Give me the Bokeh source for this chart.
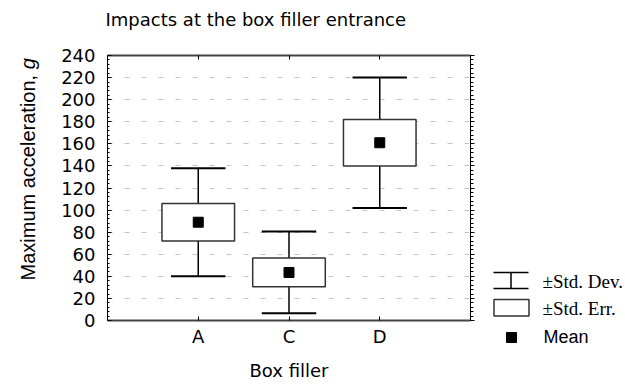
import math
from bokeh.plotting import figure
from bokeh.models import Range1d, LinearAxis, FixedTicker, ColumnDataSource, CustomLabelingPolicy
from bokeh.layouts import row, column
from bokeh.embed import file_html
from bokeh.resources import INLINE
from bokeh.core.properties import value

# ---- data ----
categories = ["A", "C", "D"]
means = [89.0, 43.5, 161.0]
std_err = [17.0, 13.0, 21.0]
std_dev = [49.0, 37.0, 59.0]
y_ticks = [0, 20, 40, 60, 80, 100, 120, 140, 160, 180, 200, 220, 240]
title_text = "Impacts at the box filler entrance"
y_label_parts = ["Maximum acceleration, ", "g"]
x_label = "Box filler"
legend_labels = ["\u00b1Std. Dev.", "\u00b1Std. Err.", "Mean"]

pos = [i + 1 for i in range(len(categories))]
src = ColumnDataSource(dict(
    x=pos,
    m=means,
    se_lo=[m - s for m, s in zip(means, std_err)],
    se_hi=[m + s for m, s in zip(means, std_err)],
    sd_lo=[m - s for m, s in zip(means, std_dev)],
    sd_hi=[m + s for m, s in zip(means, std_dev)],
    cap_l=[x - 0.3 for x in pos],
    cap_r=[x + 0.3 for x in pos],
))

SANS = "DejaVu Sans"
TOP_H = 40
LEFT_W = 40


def blank(fig):
    fig.outline_line_color = None
    fig.grid.visible = False
    fig.background_fill_color = "white"
    fig.border_fill_color = "white"
    fig.frame_align = False


# ---- title strip ----
tfig = figure(width=625, height=TOP_H, x_range=Range1d(0, 625), y_range=Range1d(TOP_H, 0),
              output_backend="svg", toolbar_location=None, min_border=0,
              x_axis_type=None, y_axis_type=None)
blank(tfig)
tfig.text(x=[105], y=[19], text=[title_text], text_font=value(SANS), text_font_size="18px",
          text_baseline="middle", text_align="left", text_color="black")

# ---- y label strip (page-pixel coordinates) ----
lfig = figure(width=LEFT_W, height=385 - TOP_H, x_range=Range1d(0, LEFT_W),
              y_range=Range1d(385, TOP_H), output_backend="svg", toolbar_location=None,
              min_border=0, x_axis_type=None, y_axis_type=None)
blank(lfig)
lfig.text(x=[27], y=[280], text=[y_label_parts[0]], angle=math.pi / 2,
          text_font=value("Liberation Sans"), text_font_size="20px",
          text_baseline="alphabetic", text_align="left", text_color="black")
lfig.text(x=[27], y=[280 - 211.2], text=[y_label_parts[1]], angle=math.pi / 2,
          text_font=value("Liberation Sans"), text_font_size="20px", text_font_style="italic",
          text_baseline="alphabetic", text_align="left", text_color="black")

# ---- main plot ----
p = figure(width=485 - LEFT_W, height=385 - TOP_H,
           x_range=Range1d(0, len(categories) + 1),
           y_range=Range1d(y_ticks[0], y_ticks[-1]),
           output_backend="svg", toolbar_location=None,
           min_border_left=107 - LEFT_W, min_border_right=15,
           min_border_top=55 - TOP_H, min_border_bottom=65)
p.background_fill_color = "white"
p.border_fill_color = "white"
p.outline_line_color = None
p.frame_align = False

no_labels = CustomLabelingPolicy(code="""
    const arr = [...indices]
    for (const i of arr) indices.unset(i)
    return indices
""")

# y axis
yt = FixedTicker(ticks=y_ticks, minor_ticks=list(range(0, 241, 4)))
yax = p.yaxis[0]
yax.ticker = yt
yax.major_label_text_font = SANS
yax.major_label_text_font_size = "18px"
yax.major_label_text_color = "black"
yax.major_label_standoff = 12
yax.major_tick_in = 4
yax.major_tick_out = 0
yax.minor_tick_in = 2
yax.minor_tick_out = 0
yax.axis_line_color = "black"
yax.major_tick_line_color = "black"
yax.minor_tick_line_color = "black"

# x axis
xax = p.xaxis[0]
xax.ticker = FixedTicker(ticks=pos)
xax.major_label_overrides = {x: c for x, c in zip(pos, categories)}
xax.axis_label = x_label
xax.axis_label_text_font = SANS
xax.axis_label_text_font_size = "18px"
xax.axis_label_text_font_style = "normal"
xax.axis_label_text_color = "black"
xax.axis_label_standoff = 10
xax.major_label_text_font = SANS
xax.major_label_text_font_size = "18px"
xax.major_label_text_color = "black"
xax.major_label_standoff = 5
xax.major_tick_in = 4
xax.major_tick_out = 0
xax.major_tick_line_color = "black"
xax.axis_line_color = "#444444"
xax.axis_line_width = 2

# top axis (ticks only)
top = LinearAxis(ticker=FixedTicker(ticks=pos), major_label_text_font_size="1px",
                 major_label_policy=no_labels,
                 major_tick_in=4, major_tick_out=0, major_label_standoff=0,
                 major_tick_line_color="black",
                 axis_line_color="#444444", axis_line_width=2)
p.add_layout(top, "above")

# right axis (ticks only)
right = LinearAxis(ticker=yt, major_label_text_font_size="1px",
                   major_label_policy=no_labels,
                   major_tick_in=0, major_tick_out=4, minor_tick_in=0, minor_tick_out=3,
                   major_label_standoff=0, axis_line_color="black",
                   major_tick_line_color="black", minor_tick_line_color="black")
p.add_layout(right, "right")

p.xgrid.visible = False
p.ygrid.grid_line_color = "#c4c4c4"
p.ygrid.grid_line_dash = "5 12"
p.ygrid.grid_line_width = 1

# whiskers (std dev)
p.segment(x0="x", y0="sd_lo", x1="x", y1="sd_hi", source=src, line_color="black", line_width=1.5)
p.segment(x0="cap_l", y0="sd_hi", x1="cap_r", y1="sd_hi", source=src, line_color="black", line_width=2)
p.segment(x0="cap_l", y0="sd_lo", x1="cap_r", y1="sd_lo", source=src, line_color="black", line_width=2)
# boxes (std err)
p.vbar(x="x", width=0.8, bottom="se_lo", top="se_hi", source=src,
       fill_color="white", line_color="#333333", line_width=1.5)
# means
p.scatter(x="x", y="m", source=src, marker="square", size=10,
          fill_color="black", line_color="black")

# ---- legend panel (page-pixel coordinates) ----
leg = figure(width=140, height=385 - TOP_H, x_range=Range1d(0, 140), y_range=Range1d(385, TOP_H),
             output_backend="svg", toolbar_location=None, min_border=0,
             x_axis_type=None, y_axis_type=None)
blank(leg)

leg.segment(x0=[8, 8, 25.5], y0=[272, 288, 272], x1=[43, 43, 25.5], y1=[272, 288, 288],
            line_color="black", line_width=1.5)
leg.quad(left=[8.5], right=[43.5], top=[299], bottom=[315.5],
         fill_color="white", line_color="#333333", line_width=1.5)
leg.scatter(x=[26], y=[337], marker="square", size=10, fill_color="black", line_color="black")
leg.text(x=[57, 57], y=[281, 308], text=legend_labels[:2],
         text_font=value("Liberation Serif"), text_font_size="19px",
         text_baseline="middle", text_align="left", text_color="black")
leg.text(x=[58], y=[336], text=legend_labels[2:],
         text_font=value("Liberation Sans"), text_font_size="18px",
         text_baseline="middle", text_align="left", text_color="black")

layout = column(tfig, row(lfig, p, leg))
open("out.html", "w").write(file_html(layout, INLINE))
